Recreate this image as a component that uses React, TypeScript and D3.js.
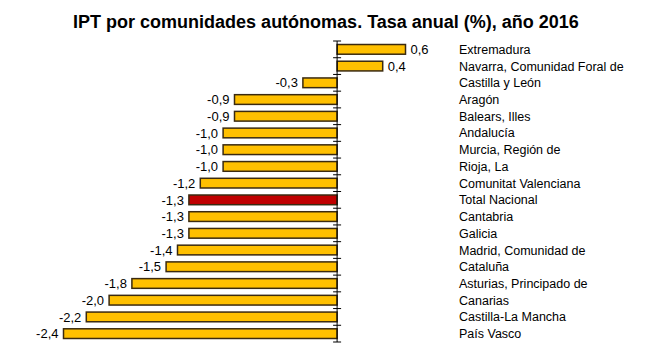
import React from "react";
import * as d3 from "d3";

const categories = [
  "Extremadura",
  "Navarra, Comunidad Foral de",
  "Castilla y León",
  "Aragón",
  "Balears, Illes",
  "Andalucía",
  "Murcia, Región de",
  "Rioja, La",
  "Comunitat Valenciana",
  "Total Nacional",
  "Cantabria",
  "Galicia",
  "Madrid, Comunidad de",
  "Cataluña",
  "Asturias, Principado de",
  "Canarias",
  "Castilla-La Mancha",
  "País Vasco",
];
const values = [0.6, 0.4, -0.3, -0.9, -0.9, -1.0, -1.0, -1.0, -1.2, -1.3, -1.3, -1.3, -1.4, -1.5, -1.8, -2.0, -2.2, -2.4];
const highlight = "Total Nacional";
const title = "IPT por comunidades autónomas. Tasa anual (%), año 2016";

export default function App() {
  const W = 650, H = 357;
  const x = d3.scaleLinear().domain([-2.4, 0.6]).range([63.5, 405.5]);
  const y = d3.scaleBand<string>().domain(categories).range([41, 342]).paddingInner(0.42).paddingOuter(0.21);
  const x0 = x(0);
  const fmt = (v: number) => v.toFixed(1).replace(".", ",");
  const font = "Arial, 'Liberation Sans', sans-serif";
  const ticks = d3.range(categories.length + 1).map(i => 41 + i * (301 / categories.length));
  return (
    <svg width={W} height={H} style={{ position: "absolute", left: 0, top: 0, background: "#fff" }}>
      <text x={326} y={28} textAnchor="middle" fontFamily={font} fontWeight="bold" fontSize={18} fill="#000">{title}</text>
      {categories.map((c, i) => {
        const v = values[i];
        const bx = Math.min(x(v), x0);
        const bw = Math.abs(x(v) - x0);
        const yy = y(c)!;
        const bh = y.bandwidth();
        return (
          <g key={c}>
            <rect x={bx} y={yy} width={bw} height={bh} fill={c === highlight ? "#C00000" : "#FFC000"} stroke="#3a2a10" strokeWidth={1.5} />
            <text x={v < 0 ? x(v) - 5 : x(v) + 5} y={yy + bh / 2} dy="0.36em" textAnchor={v < 0 ? "end" : "start"} fontFamily={font} fontSize={13} fill="#000">{fmt(v)}</text>
            <text x={459} y={yy + bh / 2} dy="0.36em" fontFamily={font} fontSize={12.5} fill="#000">{c}</text>
          </g>
        );
      })}
      <line x1={x0} x2={x0} y1={41} y2={342} stroke="#000" strokeWidth={1} />
      {ticks.map((t, i) => (
        <line key={i} x1={x0 - 4} x2={x0 + 4} y1={t} y2={t} stroke="#000" strokeWidth={1} />
      ))}
    </svg>
  );
}
